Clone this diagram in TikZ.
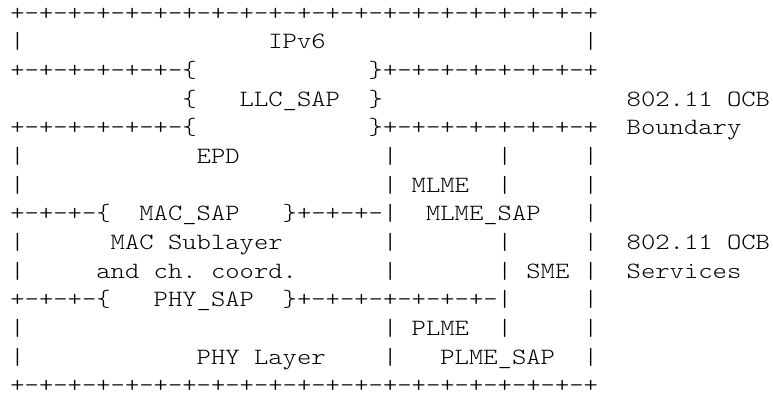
\documentclass[tikz,border=0pt]{standalone}
\usepackage{fontspec}
\newfontfamily\asciifont{lmmonolt10-regular.otf}[FakeStretch=1.17]
\usepackage{tikz}

\begin{document}
\begin{tikzpicture}[x=10.7494pt, y=-21.5pt,
    asc/.style={anchor=base west, inner sep=0pt, font=\asciifont\fontsize{17.5pt}{21pt}\selectfont}]
    \useasboundingbox (-7.58pt,-6.27pt) rectangle (572.17pt,-301.77pt);

    % Outer edges
    \node[asc] (topedge) at (0,1) {+-+-+-+-+-+-+-+-+-+-+-+-+-+-+-+-+-+-+-+-+};
    \node[asc] (botedge) at (0,14) {+-+-+-+-+-+-+-+-+-+-+-+-+-+-+-+-+-+-+-+-+};
    \node[asc] (ipl) at (0,2) {|};
    \node[asc] (ipv6) at (18,2) {IPv6};
    \node[asc] (ipr) at (40,2) {|};

    % LLC_SAP and boundary
    \node[asc] (llcupl) at (0,3) {+-+-+-+-+-+-\{};
    \node[asc] (llcupr) at (25,3) {\}+-+-+-+-+-+-+-+};
    \node[asc] (llcl) at (12,4) {\{};
    \node[asc] (llc) at (16,4) {LLC\_SAP};
    \node[asc] (llcr) at (25,4) {\}};
    \node[asc] (llcdnl) at (0,5) {+-+-+-+-+-+-\{};
    \node[asc] (llcdnr) at (25,5) {\}+-+-+-+-+-+-+-+};
    \node[asc] (bnda) at (43,4) {802.11};
    \node[asc] (bndb) at (50,4) {OCB};
    \node[asc] (bndc) at (43,5) {Boundary};

    % Vertical sides
    \foreach \r in {6,7,9,10,12,13} {
        \node[asc] (sidel\r) at (0,\r) {|};
        \node[asc] (sidem\r) at (26,\r) {|};
    }
    \foreach \r in {6,7,9,10,12}
        \node[asc] (sidek\r) at (34,\r) {|};
    \foreach \r in {6,7,8,9,10,11,12,13}
        \node[asc] (sider\r) at (40,\r) {|};

    % EPD and MLME
    \node[asc] (epd) at (13,6) {EPD};
    \node[asc] (mlme) at (28,7) {MLME};
    \node[asc] (macupl) at (0,8) {+-+-+-\{};
    \node[asc] (macsap) at (9,8) {MAC\_SAP};
    \node[asc] (macupr) at (19,8) {\}+-+-+-|};
    \node[asc] (mlmesap) at (29,8) {MLME\_SAP};

    % MAC sublayer and SME
    \node[asc] (maca) at (7,9) {MAC};
    \node[asc] (macb) at (11,9) {Sublayer};
    \node[asc] (chca) at (6,10) {and};
    \node[asc] (chcb) at (10,10) {ch.};
    \node[asc] (chcc) at (14,10) {coord.};
    \node[asc] (sme) at (36,10) {SME};
    \node[asc] (srva) at (43,9) {802.11};
    \node[asc] (srvb) at (50,9) {OCB};
    \node[asc] (srvc) at (43,10) {Services};

    % PHY layer and PLME
    \node[asc] (phyupl) at (0,11) {+-+-+-\{};
    \node[asc] (physap) at (10,11) {PHY\_SAP};
    \node[asc] (phyupr) at (19,11) {\}+-+-+-+-+-+-+-|};
    \node[asc] (plme) at (28,12) {PLME};
    \node[asc] (phya) at (13,13) {PHY};
    \node[asc] (phyb) at (17,13) {Layer};
    \node[asc] (plmesap) at (30,13) {PLME\_SAP};
\end{tikzpicture}
\end{document}
